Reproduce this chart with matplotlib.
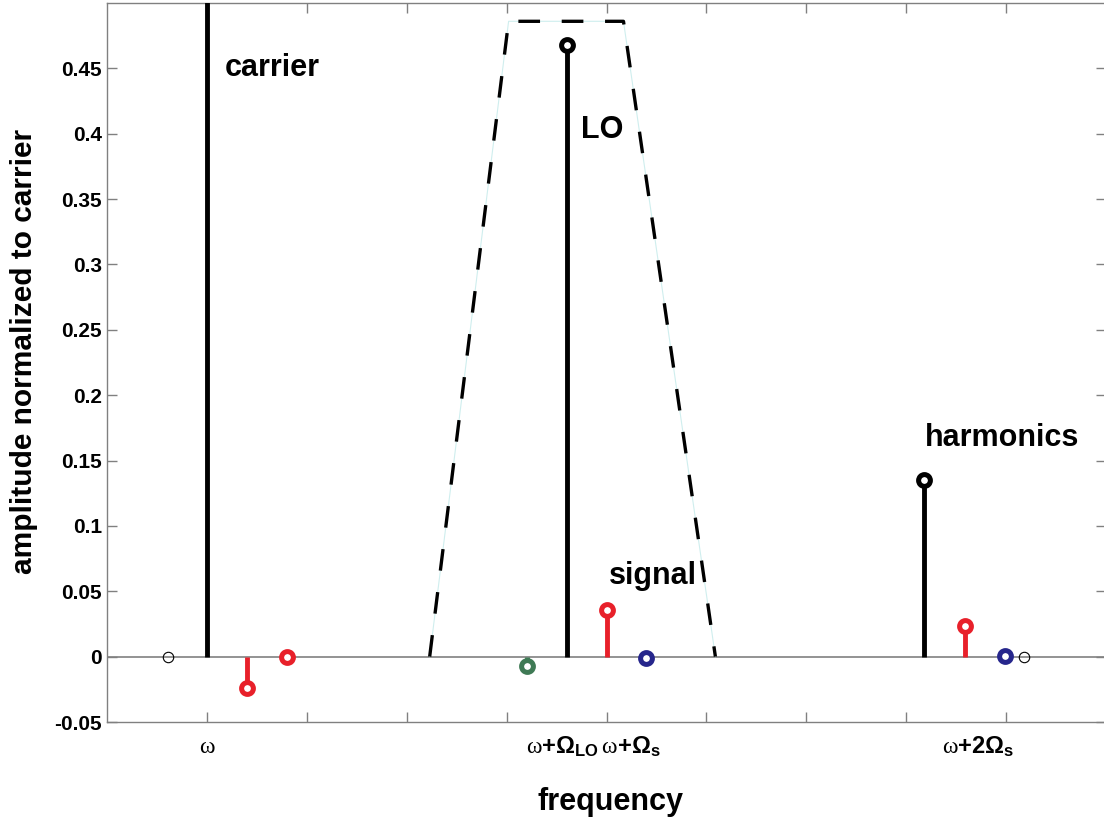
import matplotlib
matplotlib.use("Agg")
import matplotlib.pyplot as plt
import matplotlib.transforms as mtransforms

plt.rcParams["font.family"] = ["Liberation Sans", "DejaVu Sans"]
plt.rcParams["mathtext.fontset"] = "custom"
plt.rcParams["mathtext.rm"] = "Liberation Serif"
plt.rcParams["mathtext.bf"] = "Liberation Sans:bold"

# spectral lines (frequency in tick units, amplitude normalized to carrier)
carrier_x, carrier_y = [0.0], [1.0]
lo_x, lo_y = [3.6], [0.4675]
harm_x, harm_y = [7.18], [0.135]
red_x = [0.4, 0.8, 4.0, 7.59]
red_y = [-0.0237, 0.0, 0.036, 0.0237]
green_x, green_y = [3.2], [-0.0069]
blue_x, blue_y = [4.4, 7.99], [-0.0008, 0.0003]
open_x, open_y = [-0.39, 8.18], [0.0, 0.0]

# band-pass filter outline
filter_x = [2.23, 3.02, 4.17, 5.09]
filter_y = [0.0, 0.486, 0.486, 0.0]

yticks = [-0.05, 0, 0.05, 0.1, 0.15, 0.2, 0.25, 0.3, 0.35, 0.4, 0.45]
ytick_labels = ["-0.05", "0", "0.05", "0.1", "0.15", "0.2", "0.25", "0.3", "0.35", "0.4", "0.45"]
xticks = [0, 1, 2, 3, 4, 5, 6, 7, 8]

red = "#e8202a"
green = "#3f7a55"
blue = "#26268c"
gray = "#808080"

fig = plt.figure(figsize=(11.04, 8.24), dpi=100)
ax = fig.add_axes([107 / 1104, 1 - 722 / 824, 999 / 1104, 719 / 824])
ax.set_xlim(-1, 9)
ax.set_ylim(-0.05, 0.5)

# stem baseline
ax.axhline(0, color=gray, lw=1.2, zorder=1)

# filter shape (thin light line under the dashes)
ax.plot(filter_x, filter_y, color="#cfeeee", lw=0.8, zorder=2)
ax.plot(filter_x, filter_y, color="black", lw=2.4, dashes=(6.5, 6.5), zorder=2)

mk = dict(marker="o", markersize=8.5, markeredgewidth=3.6, markerfacecolor="white", ls="none", zorder=4)

for xs, ys, c in [(carrier_x, carrier_y, "black"), (lo_x, lo_y, "black"),
                  (harm_x, harm_y, "black"), (red_x, red_y, red),
                  (green_x, green_y, green), (blue_x, blue_y, blue)]:
    ax.vlines(xs, 0, ys, color=c, lw=3.5, zorder=3)
    ax.plot(xs, ys, color=c, markeredgecolor=c, **mk)

ax.plot(open_x, open_y, marker="o", markersize=7.5, markerfacecolor="none",
        markeredgecolor="black", markeredgewidth=0.8, ls="none", zorder=4)

# annotations
tfont = dict(fontsize=22, fontweight="bold", va="baseline", ha="left")
ax.text(0.18, 0.4438, "carrier", **tfont)
ax.text(3.74, 0.397, "LO", **tfont)
ax.text(4.02, 0.0558, "signal", **tfont)
ax.text(7.19, 0.161, "harmonics", **tfont)

# axes styling
for s in ax.spines.values():
    s.set_color(gray)
    s.set_linewidth(1.0)
ax.set_yticks(yticks)
ax.set_yticklabels(ytick_labels, fontsize=15, fontweight="bold")
ax.set_xticks(xticks)
ax.set_xticklabels([""] * len(xticks))
ax.tick_params(direction="in", length=7.2, width=1.0, color=gray,
               top=True, right=True, pad=3.5)

# frequency tick labels
trans = mtransforms.blended_transform_factory(ax.transData, fig.transFigure)
lab_y = 1 - 753 / 824
ax.text(0, lab_y, r"$\mathrm{\omega}$", transform=trans, fontsize=17,
        ha="center", va="baseline")
ax.text(3.19, lab_y, r"$\mathrm{\omega}\mathbf{+\Omega_{LO}}\,\mathrm{\omega}\mathbf{+\Omega_{s}}$",
        transform=trans, fontsize=17, ha="left", va="baseline")
ax.text(7.36, lab_y, r"$\mathrm{\omega}\mathbf{+2\Omega_{s}}$", transform=trans,
        fontsize=17, ha="left", va="baseline")

fig.text(611 / 1104, 1 - 810 / 824, "frequency", fontsize=22, fontweight="bold",
         ha="center", va="baseline")
fig.text(24 / 1104, 1 - 351 / 824, "amplitude normalized to carrier", fontsize=21.5,
         fontweight="bold", rotation=90, ha="center", va="center")

fig.savefig("out.png", dpi=100)
